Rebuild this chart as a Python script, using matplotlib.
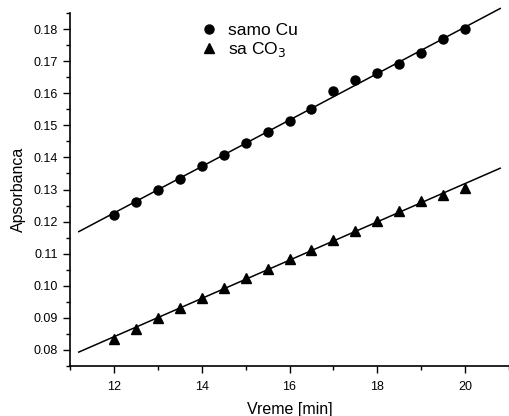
import numpy as np
import matplotlib.pyplot as plt
from matplotlib.ticker import MultipleLocator

plt.rcParams['font.family'] = ['Liberation Sans', 'DejaVu Sans']

# Vreme [min]
vreme = [12, 12.5, 13, 13.5, 14, 14.5, 15, 15.5, 16, 16.5, 17, 17.5, 18, 18.5, 19, 19.5, 20]
# Apsorbanca - samo Cu
samo_cu = [0.1220, 0.1262, 0.1299, 0.1334, 0.1372, 0.1407, 0.1446, 0.1480, 0.1514,
           0.1550, 0.1608, 0.1641, 0.1663, 0.1690, 0.1724, 0.1769, 0.1800]
# Apsorbanca - sa CO3
sa_co3 = [0.0834, 0.0866, 0.0900, 0.0931, 0.0962, 0.0994, 0.1023, 0.1052, 0.1083,
          0.1111, 0.1142, 0.1170, 0.1203, 0.1234, 0.1263, 0.1284, 0.1305]

fig = plt.figure(figsize=(5.09, 4.16), dpi=100)
ax = fig.add_axes([70/509, 50/416, 439/509, 353/416])

# linearni fit
x_fit = np.array([11.2, 20.8])
for y in (samo_cu, sa_co3):
    k, n = np.polyfit(vreme, y, 1)
    ax.plot(x_fit, k*x_fit + n, color='black', lw=1.1, clip_on=False)

ax.plot(vreme, samo_cu, 'o', color='black', ms=6.5, label='samo Cu')
ax.plot(vreme, sa_co3, '^', color='black', ms=7.5, label='sa CO$_3$')

ax.set_xlim(11, 21)
ax.set_ylim(0.075, 0.185)
ax.xaxis.set_major_locator(MultipleLocator(2))
ax.xaxis.set_minor_locator(MultipleLocator(1))
ax.yaxis.set_major_locator(MultipleLocator(0.01))
ax.yaxis.set_minor_locator(MultipleLocator(0.005))
ax.yaxis.set_major_formatter(plt.FormatStrFormatter('%.2f'))
ax.tick_params(which='major', direction='out', length=5, width=1, labelsize=9)
ax.tick_params(which='minor', direction='out', length=3, width=1)
ax.tick_params(axis='x', which='major', pad=6)

ax.spines['top'].set_visible(False)
ax.spines['right'].set_visible(False)
ax.spines['left'].set_linewidth(1.2)
ax.spines['bottom'].set_linewidth(1.2)

ax.set_xlabel('Vreme [min]', fontsize=11.5, labelpad=6)
ax.set_ylabel('Apsorbanca', fontsize=11.5, labelpad=6)

ax.legend(loc='upper left', bbox_to_anchor=(0.252, 1.015), frameon=False, fontsize=12.5,
          handletextpad=0.3, labelspacing=0.1, handlelength=1.5)

fig.savefig('out.png', dpi=100)
